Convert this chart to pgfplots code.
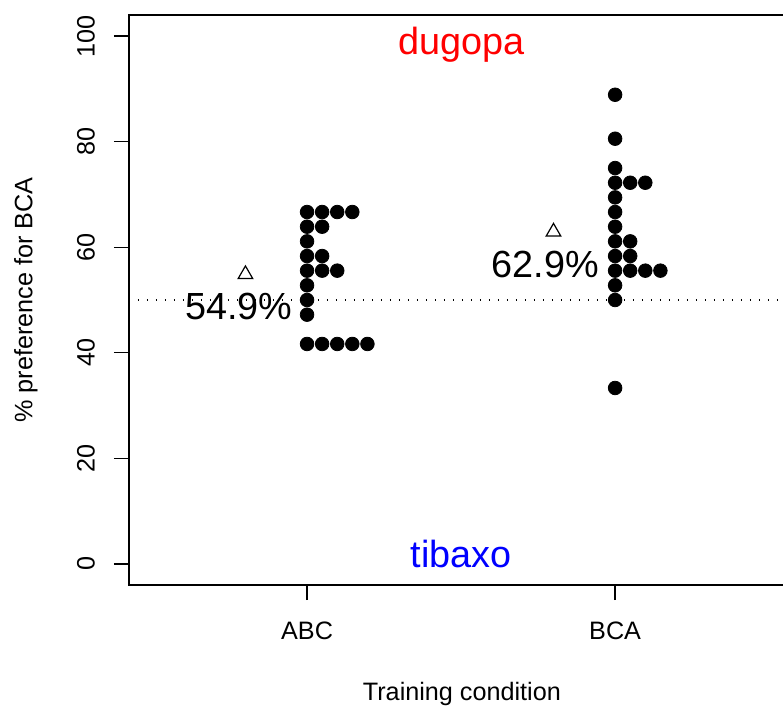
\documentclass[border=0pt]{standalone}
\usepackage{pgfplots}
\pgfplotsset{compat=1.18}
\usepackage{fontspec}
\setmainfont{Liberation Sans}
\begin{document}
\begin{tikzpicture}
\begin{axis}[
  name=ax,
  at={(0,0)}, anchor=south west,
  scale only axis, width=327pt, height=285pt,
  xmin=0.422, xmax=2.545, ymin=-4, ymax=104,
  xtick={1,2}, xticklabels={ABC,BCA},
  ytick={0,20,40,60,80,100},
  tick align=outside, xtick pos=left, ytick pos=left,
  major tick length=7.5pt,
  tick style={black, line width=0.7pt},
  axis line style={draw=none},
  clip=false,
  /pgf/number format/assume math mode=true,
  tick label style={font=\fontsize{12.6}{15}\selectfont},
  yticklabel style={rotate=90, anchor=south},
  xticklabel shift=7.5pt,
  yticklabel shift=6pt,
  label style={font=\fontsize{12.6}{15}\selectfont},
  xlabel={Training condition},
  ylabel={\% preference for BCA},
  xlabel style={at={(axis description cs:0.509,-0.1912)}, anchor=center},
  ylabel style={at={(axis description cs:-0.1575,0.5)}, anchor=center},
]
\draw[black, line width=0.7pt] (rel axis cs:1,0) -- (rel axis cs:0,0) -- (rel axis cs:0,1) -- (rel axis cs:1,1);
\addplot[black, dash pattern=on 0.7pt off 3.8pt, line width=0.6pt] coordinates {(0.422,50) (2.545,50)};
% ABC
\addplot[only marks, mark=*, mark size=3.4pt, black] coordinates {
(1,66.67) (1.049,66.67) (1.098,66.67) (1.147,66.67)
(1,63.89) (1.049,63.89)
(1,61.11)
(1,58.33) (1.049,58.33)
(1,55.56) (1.049,55.56) (1.098,55.56)
(1,52.78)
(1,50)
(1,47.22)
(1,41.67) (1.049,41.67) (1.098,41.67) (1.147,41.67) (1.196,41.67)
};
% BCA
\addplot[only marks, mark=*, mark size=3.4pt, black] coordinates {
(2,88.89)
(2,80.56)
(2,75)
(2,72.22) (2.049,72.22) (2.098,72.22)
(2,69.44)
(2,66.67)
(2,63.89)
(2,61.11) (2.049,61.11)
(2,58.33) (2.049,58.33)
(2,55.56) (2.049,55.56) (2.098,55.56) (2.147,55.56)
(2,52.78)
(2,50)
(2,33.33)
};
% means
\addplot[only marks, mark=triangle, mark size=4.2pt, black, mark options={line width=0.6pt}] coordinates {(0.80,54.86) (1.80,62.92)};
\node[font=\fontsize{18.9}{22}\selectfont, anchor=base, yshift=-22.7pt] at (axis cs:0.778,54.86) {54.9\%};
\node[font=\fontsize{18.9}{22}\selectfont, anchor=base, yshift=-22.7pt] at (axis cs:1.773,62.92) {62.9\%};
\node[font=\fontsize{18.9}{22}\selectfont, anchor=base, text=red] at (axis cs:1.5,96.5) {dugopa};
\node[font=\fontsize{18.9}{22}\selectfont, anchor=base, text=blue] at (axis cs:1.5,-0.7) {tibaxo};
\end{axis}
\pgfresetboundingbox
\path ([shift={(-64.5pt,-61pt)}]ax.south west) rectangle ([shift={(327pt,292.5pt)}]ax.south west);
\end{tikzpicture}
\end{document}
